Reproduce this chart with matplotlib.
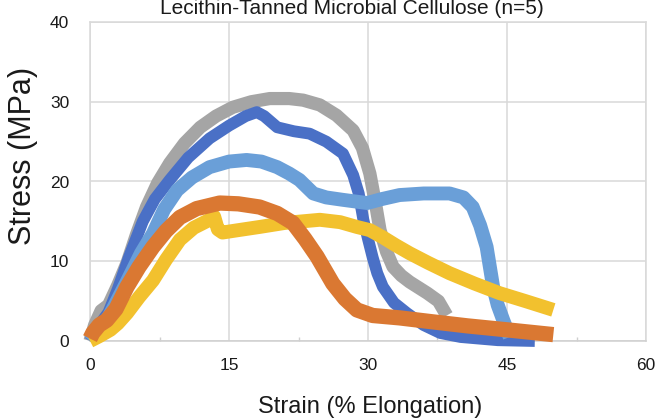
import matplotlib
matplotlib.use("Agg")
import matplotlib.pyplot as plt
from matplotlib.ticker import MultipleLocator

plt.rcParams['font.family'] = ['Liberation Sans', 'DejaVu Sans']

title = "Lecithin-Tanned Microbial Cellulose (n=5)"
x_label = "Strain (% Elongation)"
y_label = "Stress (MPa)"
x_ticks = [0, 15, 30, 45, 60]
y_ticks = [0, 10, 20, 30, 40]

gray_x = [0, 0.5, 1.2, 2.0, 3.0, 4.0, 5.0, 6.1, 7.3, 8.6, 10.2, 11.9, 13.6, 15.4, 17.4, 19.4,
          21.5, 23.0, 24.8, 26.6, 28.4, 29.4, 30.2, 30.8, 31.3, 32.0, 32.7, 33.6, 34.5, 36.4, 37.6, 38.5]
gray_y = [0, 2.0, 3.8, 4.5, 7.0, 9.8, 13.3, 16.8, 19.8, 22.3, 24.8, 26.8, 28.2, 29.3, 30.0, 30.4,
          30.4, 30.2, 29.6, 28.3, 26.4, 24.2, 21.0, 17.3, 13.9, 11.2, 9.3, 8.2, 7.4, 6.0, 5.0, 3.2]

dblue_x = [0, 1.0, 2.0, 3.0, 4.2, 5.7, 7.0, 8.6, 10.6, 12.9, 15.0, 16.8, 18.0, 18.8, 20.2, 22.0,
           23.7, 25.5, 27.3, 28.4, 29.0, 29.5, 30.0, 30.5, 31.0, 31.6, 32.8, 34.2, 36.0, 37.8,
           40.0, 44.0, 48.0]
dblue_y = [0, 2.0, 3.6, 6.5, 10.5, 15.0, 17.8, 20.2, 23.0, 25.4, 27.0, 28.2, 28.7, 28.2, 26.8, 26.3,
           26.0, 25.0, 23.5, 20.8, 18.5, 15.2, 12.8, 10.5, 8.5, 6.8, 4.8, 3.5, 2.0, 1.0,
           0.5, 0.1, 0.0]

lblue_x = [0, 2.0, 4.0, 5.5, 6.8, 8.0, 9.4, 11.0, 12.9, 15.0, 16.9, 18.5, 20.2, 21.5, 22.6, 24.1,
           25.5, 27.3, 29.9, 31.5, 33.4, 36.0, 38.8, 40.3, 41.3, 42.1, 42.8, 43.5, 44.0, 44.6, 45.3]
lblue_y = [0, 3.0, 7.5, 11.0, 13.5, 16.5, 18.9, 20.5, 21.8, 22.5, 22.7, 22.5, 21.8, 21.0, 20.2, 18.5,
           18.0, 17.7, 17.3, 17.8, 18.3, 18.5, 18.5, 18.0, 16.8, 14.5, 11.8, 6.8, 4.5, 2.6, 0.5]

yellow_x = [0, 1.0, 2.2, 3.0, 4.0, 5.3, 6.8, 8.2, 9.7, 11.2, 12.9, 13.4, 13.8, 14.3, 16.0, 18.3,
            21.0, 24.8, 27.0, 28.8, 30.2, 31.6, 33.0, 34.5, 36.5, 38.8, 41.5, 44.2, 47.0, 50.0]
yellow_y = [0, 0.6, 1.4, 2.2, 3.5, 5.5, 7.6, 10.2, 12.7, 14.2, 15.2, 15.6, 14.0, 13.6, 13.9, 14.3,
            14.8, 15.2, 14.9, 14.3, 13.9, 13.0, 12.0, 11.0, 9.8, 8.5, 7.2, 6.0, 5.0, 3.9]

orange_x = [0, 0.3, 1.0, 1.8, 2.8, 4.0, 5.3, 6.8, 8.2, 9.7, 11.5, 14.0, 16.0, 18.3, 20.2, 21.9,
            23.2, 24.5, 26.2, 27.5, 28.8, 30.5, 33.4, 37.0, 40.7, 45.0, 50.0]
orange_y = [0.3, 1.0, 2.0, 2.6, 4.0, 6.8, 9.3, 11.8, 13.8, 15.5, 16.6, 17.3, 17.2, 16.8, 16.0, 14.8,
            12.8, 10.6, 7.2, 5.3, 3.9, 3.2, 2.9, 2.4, 1.9, 1.4, 0.8]

series = [
    (gray_x, gray_y, "#A5A5A5", 9.5),
    (dblue_x, dblue_y, "#4A70C6", 8.5),
    (lblue_x, lblue_y, "#6A9FD8", 10.0),
    (yellow_x, yellow_y, "#F2C12E", 10.0),
    (orange_x, orange_y, "#DA7832", 11.0),
]

fig = plt.figure(figsize=(6.57, 4.19), dpi=100)
ax = fig.add_axes([90/657, 1-341/419, (646-90)/657, (341-22)/419])

for xs, ys, c, lw in series:
    ax.plot(xs, ys, color=c, lw=lw, solid_capstyle='butt', solid_joinstyle='round',
            clip_on=False, zorder=3)

ax.set_xlim(0, 60)
ax.set_ylim(0, 40)
ax.set_xticks(x_ticks)
ax.set_yticks(y_ticks)
ax.xaxis.set_minor_locator(MultipleLocator(7.5))
ax.grid(True, which='major', color='#D9D9D9', lw=1.1, zorder=0)
ax.set_axisbelow(True)
for s in ax.spines.values():
    s.set_color('#D9D9D9')
    s.set_linewidth(1.1)
ax.spines['bottom'].set_color('#CFCFCF')
ax.tick_params(axis='x', which='major', length=0, pad=12, labelsize=12.5, labelcolor='#1a1a1a')
ax.tick_params(axis='x', which='minor', direction='in', length=3, width=1, color='#CFCFCF')
ax.tick_params(axis='y', which='major', length=0, pad=15, labelsize=12.5, labelcolor='#1a1a1a')

fig.text(352/657, 1-14/419, title, ha='center', va='baseline', fontsize=15, color='#1a1a1a')
fig.text(370/657, 1-413/419, x_label, ha='center', va='baseline', fontsize=17, color='#1a1a1a')
fig.text(23/657, 1-156/419, y_label, ha='center', va='center', rotation=90, fontsize=22,
         color='#1a1a1a')

fig.savefig("out.png", dpi=100)
